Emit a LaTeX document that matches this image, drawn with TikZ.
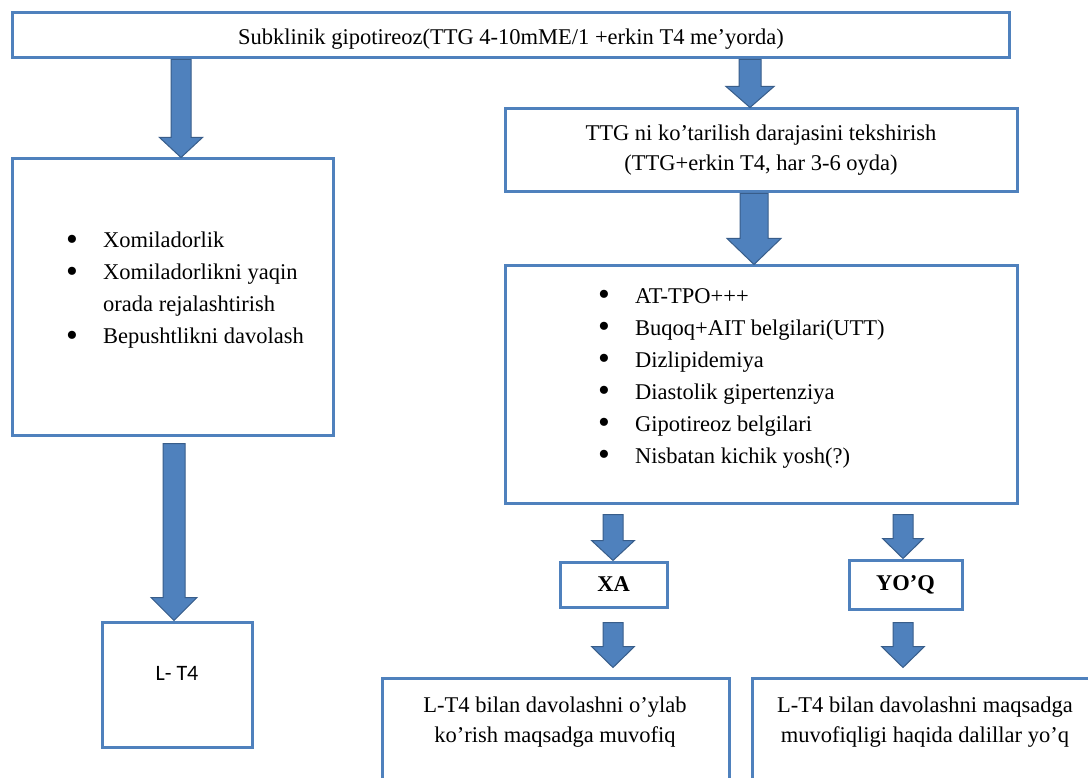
\documentclass[tikz,border=0pt]{standalone}
\usepackage{fontspec}
\usepackage{graphicx}
\setmainfont{Liberation Serif}
\newfontfamily\calfont{Carlito}
\usetikzlibrary{calc}
\definecolor{boxblue}{RGB}{79,129,189}
\definecolor{arrowedge}{RGB}{56,93,138}
\tikzset{
  box/.style={draw=boxblue, line width=3pt, fill=white, inner sep=0pt, align=center,
    font=\fontsize{22.5}{30}\selectfont},
  txt/.style={inner sep=0pt, align=left, font=\fontsize{22.5}{32}\selectfont},
  ctxt/.style={inner sep=0pt, align=center, font=\fontsize{22.5}{30}\selectfont},
  blk/.style={fill=boxblue, draw=arrowedge, line width=1pt, line join=miter},
}
\newcommand\blkarrow[5]{%
  \path[blk] let \p1=(#1), \p2=(#2) in
  (\x1-#3,\y1) -- (\x1+#3,\y1) -- (\x1+#3,\y2+#5) -- (\x1+#4,\y2+#5) -- (\x1,\y2)
  -- (\x1-#4,\y2+#5) -- (\x1-#3,\y2+#5) -- cycle;}
\newcommand\blt{\makebox[36pt][l]{\hspace*{-1pt}\raisebox{-2.6pt}{\scalebox{1.5}{\textbullet}}}}
\begin{document}
\begin{tikzpicture}[x=1pt,y=-1pt]
\useasboundingbox (0,0) rectangle (1088,778);
\fill[white] (0,0) rectangle (1088,778);

% boxes
\node[box, minimum width=997pt, minimum height=45pt] (top) at (510.5,35.5) {};
\node[box, minimum width=321pt, minimum height=276pt] (lbox) at (172.5,297) {};
\node[box, minimum width=512pt, minimum height=83pt] (box2) at (761,150.5)
  {TTG ni ko’tarilish darajasini tekshirish\\(TTG+erkin T4, har 3-6 oyda)};
\node[box, minimum width=512pt, minimum height=237pt] (box3) at (761,384.5) {};
\node[box, minimum width=150pt, minimum height=125pt] (ltf) at (177,684.5) {};
\node[box, minimum width=107pt, minimum height=45pt, font=\fontsize{22.5}{30}\selectfont\bfseries] (xa) at (613.5,584.5) {XA};
\node[box, minimum width=113pt, minimum height=49pt, font=\fontsize{22.5}{30}\selectfont\bfseries] (yq) at (905.5,584.5) {YO’Q};
\node[box, minimum width=347pt, minimum height=122pt] (bl) at (555.5,739) {};
\node[box, minimum width=358pt, minimum height=122pt] (br) at (931,739) {};

% texts
\node[ctxt] (toptxt) at (511,39.5) {Subklinik gipotireoz(TTG 4-10mME/1 +erkin T4 me’yorda)};
\node[txt, anchor=west] (ltxt) at (67,290)
  {\blt Xomiladorlik\\ \blt Xomiladorlikni yaqin\\ \hspace*{36pt}orada rejalashtirish\\ \blt Bepushtlikni davolash};
\node[txt, anchor=west] (rtxt) at (599,378)
  {\blt AT-TPO+++\\ \blt Buqoq+AIT belgilari(UTT)\\ \blt Dizlipidemiya\\ \blt Diastolik gipertenziya\\ \blt Gipotireoz belgilari\\ \blt Nisbatan kichik yosh(?)};
\node[inner sep=0pt, font=\calfont\fontsize{22}{26}\selectfont] (ltft) at (177,673) {L- T4};
\node[ctxt] (bltxt) at (555,722) {L-T4 bilan davolashni o’ylab\\ko’rish maqsadga muvofiq};
\node[ctxt] (brtxt) at (925,722) {L-T4 bilan davolashni maqsadga\\muvofiqligi haqida dalillar yo’q};

% arrow axes
\coordinate (xA1) at (181,0);
\coordinate (xA2) at (750,0);
\coordinate (xA3) at (754,0);
\coordinate (xA4) at (174,0);
\coordinate (xXA) at (613,0);
\coordinate (xYQ) at (903,0);

% block arrows
\blkarrow{xA1 |- top.south}{xA1 |- lbox.north}{10pt}{21.5pt}{20pt}
\blkarrow{xA2 |- top.south}{xA2 |- box2.north}{11pt}{24pt}{21pt}
\blkarrow{xA3 |- box2.south}{xA3 |- box3.north}{14pt}{27pt}{26pt}
\blkarrow{$(xA4 |- lbox.south)+(0,7)$}{xA4 |- ltf.north}{11pt}{23pt}{23pt}
\blkarrow{$(xXA |- box3.south)+(0,10)$}{xXA |- xa.north}{10pt}{21.5pt}{20pt}
\blkarrow{$(xYQ |- box3.south)+(0,10)$}{xYQ |- yq.north}{10pt}{20.5pt}{20pt}
\blkarrow{$(xXA |- xa.south)+(0,14)$}{$(xXA |- bl.north)+(0,-9)$}{10pt}{21.5pt}{21pt}
\blkarrow{$(xYQ |- yq.south)+(0,12)$}{$(xYQ |- br.north)+(0,-9)$}{10pt}{21.5pt}{21pt}
\end{tikzpicture}
\end{document}
